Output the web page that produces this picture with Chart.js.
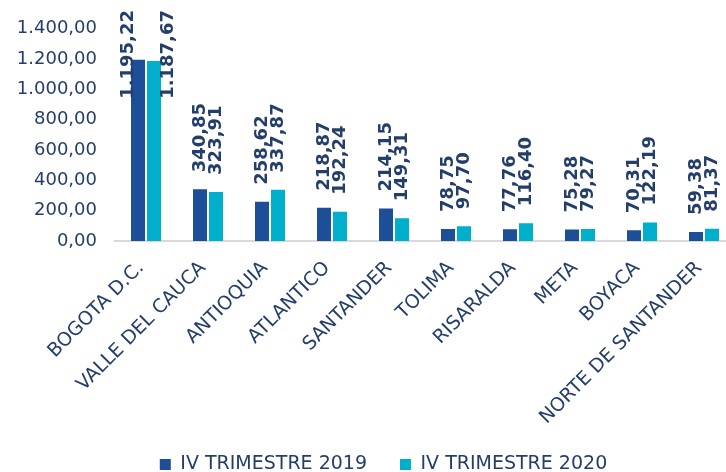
<!DOCTYPE html>
<html>
<head>
<meta charset="utf-8">
<script src="https://cdn.jsdelivr.net/npm/chart.js@4"></script>
<style>
  html, body { margin: 0; padding: 0; background: #fff; overflow: hidden; }
  #contenedor { width: 740px; height: 472px; }
</style>
</head>
<body>
<div id="contenedor"><canvas id="graficoDepartamentos"></canvas></div>
<script>
// Datos del gráfico
const categorias = ['BOGOTA D.C.', 'VALLE DEL CAUCA', 'ANTIOQUIA', 'ATLANTICO', 'SANTANDER',
                    'TOLIMA', 'RISARALDA', 'META', 'BOYACA', 'NORTE DE SANTANDER'];
const trimestre2019 = [1195.22, 340.85, 258.62, 218.87, 214.15, 78.75, 77.76, 75.28, 70.31, 59.38];
const trimestre2020 = [1187.67, 323.91, 337.87, 192.24, 149.31, 97.70, 116.40, 79.27, 122.19, 81.37];
const nombresSeries = ['IV TRIMESTRE 2019', 'IV TRIMESTRE 2020'];
const ejeYMax = 1400;
const ejeYPaso = 200;

const colorTexto = '#243E6A';
const fuente = '"DejaVu Sans", Verdana, sans-serif';

// Formato 1.195,22
function formato(valor) {
    const partes = valor.toFixed(2).split('.');
    partes[0] = partes[0].replace(/\B(?=(\d{3})+(?!\d))/g, '.');
    return partes[0] + ',' + partes[1];
}

// Etiquetas de datos verticales sobre cada barra
const etiquetasDatos = {
    id: 'etiquetasDatos',
    afterDatasetsDraw(chart) {
        const ctx = chart.ctx;
        ctx.save();
        ctx.font = 'bold 18px ' + fuente;
        ctx.fillStyle = colorTexto;
        ctx.textAlign = 'left';
        ctx.textBaseline = 'middle';
        chart.data.datasets.forEach((ds, i) => {
            chart.getDatasetMeta(i).data.forEach((barra, j) => {
                const texto = formato(ds.data[j]);
                const ancho = ctx.measureText(texto).width;
                let x = barra.x;
                let y = barra.y - 17;
                // si no cabe arriba, se baja y se aparta de la barra
                if (y - ancho < 10) {
                    y = 10 + ancho;
                    x += i === 0 ? -10 : 14;
                }
                ctx.save();
                ctx.translate(x, y);
                ctx.rotate(-Math.PI / 2);
                ctx.fillText(texto, 0, 0);
                ctx.restore();
            });
        });
        ctx.restore();
    }
};

// Mueve un poco la leyenda (derecha y arriba)
const ajusteLeyenda = {
    id: 'ajusteLeyenda',
    afterLayout(chart) {
        const lg = chart.legend;
        lg.left += 16; lg.right += 16;
        lg.top -= 10; lg.bottom -= 10;
    }
};

document.addEventListener('DOMContentLoaded', function () {
    const ctx = document.getElementById('graficoDepartamentos').getContext('2d');
    new Chart(ctx, {
        type: 'bar',
        data: {
            labels: categorias,
            datasets: [{
                label: nombresSeries[0],
                data: trimestre2019,
                backgroundColor: '#1D4E98',
                categoryPercentage: 0.516,
                barPercentage: 0.875
            }, {
                label: nombresSeries[1],
                data: trimestre2020,
                backgroundColor: '#00AFCB',
                categoryPercentage: 0.516,
                barPercentage: 0.875
            }]
        },
        options: {
            responsive: true,
            maintainAspectRatio: false,
            animation: false,
            events: [],
            layout: { padding: { top: 18, right: 5, left: 0, bottom: -22 } },
            scales: {
                x: {
                    grid: { display: false, drawTicks: false },
                    border: { color: '#D9D9D9', width: 2 },
                    ticks: {
                        autoSkip: false,
                        minRotation: 45,
                        maxRotation: 45,
                        padding: 16,
                        labelOffset: -5,
                        color: colorTexto,
                        font: { family: fuente, size: 19 }
                    },
                    afterFit: function (scale) { scale.height = 191; }
                },
                y: {
                    min: 0,
                    max: ejeYMax,
                    grid: { display: false, drawTicks: false },
                    border: { display: false },
                    ticks: {
                        stepSize: ejeYPaso,
                        padding: 18,
                        color: colorTexto,
                        font: { family: fuente, size: 18 },
                        callback: function (value) { return formato(value); }
                    },
                    afterFit: function (scale) { scale.width = 115; }
                }
            },
            plugins: {
                legend: {
                    position: 'bottom',
                    labels: {
                        boxWidth: 11,
                        boxHeight: 11,
                        padding: 33,
                        color: colorTexto,
                        font: { family: fuente, size: 19 }
                    }
                },
                tooltip: { enabled: false }
            }
        },
        plugins: [etiquetasDatos, ajusteLeyenda]
    });
});
</script>
</body>
</html>
